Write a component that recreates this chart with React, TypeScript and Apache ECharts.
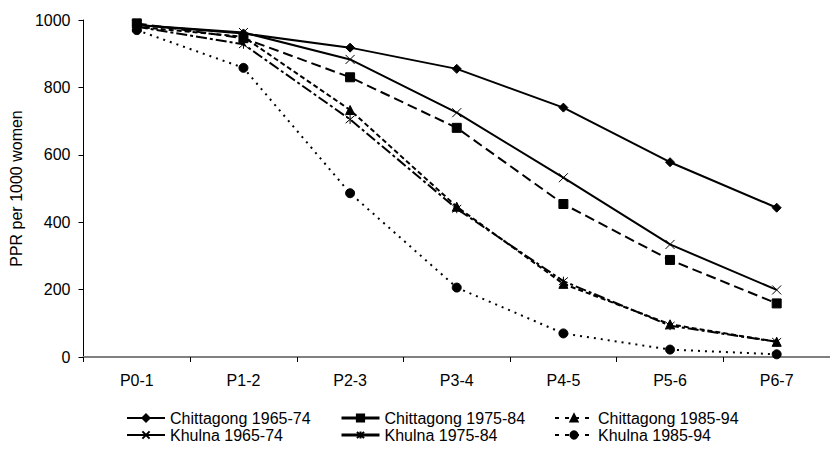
import React, { useEffect, useRef } from "react";
import * as echarts from "echarts";

const categories = ["P0-1", "P1-2", "P2-3", "P3-4", "P4-5", "P5-6", "P6-7"];
const seriesNames = [
  "Chittagong 1965-74",
  "Chittagong 1975-84",
  "Chittagong 1985-94",
  "Khulna 1965-74",
  "Khulna 1975-84",
  "Khulna 1985-94",
];
const chittagong196574 = [985, 960, 918, 855, 740, 578, 443];
const chittagong197584 = [990, 946, 830, 680, 454, 288, 159];
const chittagong198594 = [980, 950, 733, 446, 217, 97, 45];
const khulna196574 = [985, 963, 883, 725, 532, 334, 199];
const khulna197584 = [980, 928, 705, 440, 225, 93, 45];
const khulna198594 = [970, 858, 486, 206, 70, 22, 8];
const yTicks = { min: 0, max: 1000, interval: 200 };

const FONT = "'Liberation Sans', Arial, sans-serif";
const CROSS = "path://M0,0L10,10M0,10L10,0";
const ASTERISK = "path://M0,0L10,10M0,10L10,0M5,-1L5,11";

export default function App() {
  const ref = useRef<HTMLDivElement>(null);
  useEffect(() => {
    if (!ref.current) return;
    const chart = echarts.init(ref.current, null, { renderer: "svg" });
    const values = [
      chittagong196574,
      chittagong197584,
      chittagong198594,
      khulna196574,
      khulna197584,
      khulna198594,
    ];
    const styles = [
      { symbol: "diamond", size: 9, type: "solid" as any, width: 2, legendType: "solid" as any },
      { symbol: "rect", size: 9, type: [10, 5] as any, width: 2, legendType: "solid" as any },
      { symbol: "triangle", size: 9, type: [5, 3] as any, width: 2, legendType: [4, 6] as any },
      { symbol: CROSS, size: 9, type: "solid" as any, width: 2, legendType: "solid" as any },
      { symbol: ASTERISK, size: 9, type: [11, 3, 3, 3] as any, width: 2, legendType: "solid" as any },
      { symbol: "circle", size: 9, type: [2, 5] as any, width: 2, legendType: [4, 6] as any },
    ];
    const series = seriesNames.map((name, i) => ({
      name,
      type: "line",
      data: values[i],
      symbol: styles[i].symbol,
      symbolSize: styles[i].size,
      showSymbol: true,
      lineStyle: { color: "#000", width: styles[i].width, type: styles[i].type },
      itemStyle: { color: "#000", borderColor: "#000", borderWidth: 1 },
      z: 2,
    }));
    const colX = [126, 340, 554];
    const rowY = [410, 427];
    const legends = seriesNames.map((name, i) => ({
      data: [name],
      left: colX[i % 3],
      top: rowY[Math.floor(i / 3)],
      padding: 0,
      itemWidth: 38,
      itemHeight: 9,
      itemGap: 0,
      lineStyle: { type: styles[i].legendType, width: i === 1 || i === 4 ? 3 : 2 },
      textStyle: { fontFamily: FONT, fontSize: 16, color: "#000" },
      selectedMode: false,
    }));
    chart.setOption({
      animation: false,
      backgroundColor: "#fff",
      grid: { left: 83, top: 20, width: 752.5, height: 337, containLabel: false },
      legend: legends,
      xAxis: {
        type: "category",
        data: categories,
        boundaryGap: true,
        axisLine: { show: true, lineStyle: { color: "#808080", width: 2 } },
        axisTick: { show: true, length: 5, alignWithLabel: false, lineStyle: { color: "#000" } },
        axisLabel: { margin: 15, fontSize: 16, color: "#000", fontFamily: FONT },
        splitLine: { show: false },
      },
      yAxis: {
        type: "value",
        min: yTicks.min,
        max: yTicks.max,
        interval: yTicks.interval,
        name: "PPR per 1000 women",
        nameLocation: "middle",
        nameGap: 58,
        nameRotate: 90,
        nameTextStyle: { fontSize: 16, color: "#000", fontFamily: FONT },
        axisLine: { show: true, lineStyle: { color: "#000", width: 1 } },
        axisTick: { show: true, length: 5, lineStyle: { color: "#000" } },
        axisLabel: {
          margin: 13,
          fontSize: 16,
          color: "#000",
          fontFamily: FONT,
          formatter: (v: number) => String(v),
        },
        splitLine: { show: false },
      },
      series,
    });
    return () => chart.dispose();
  }, []);
  return (
    <div
      ref={ref}
      style={{ position: "absolute", left: 0, top: 0, width: 830, height: 451, background: "#fff" }}
    />
  );
}
